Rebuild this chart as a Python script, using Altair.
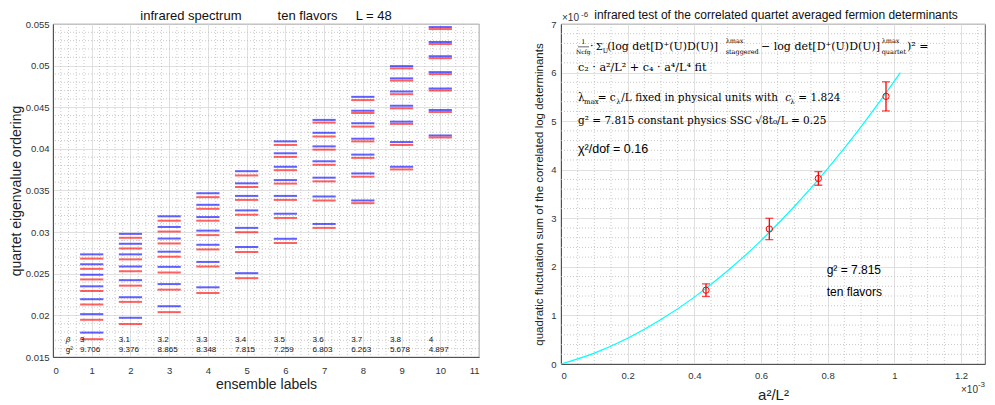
import altair as alt
import pandas as pd
import numpy as np

# ---------------- data: left panel ----------------
ensembles = [1, 2, 3, 4, 5, 6, 7, 8, 9, 10]
beta_labels = ["3", "3.1", "3.2", "3.3", "3.4", "3.5", "3.6", "3.7", "3.8", "4"]
g2_labels = ["9.706", "9.376", "8.865", "8.348", "7.815", "7.259", "6.803", "6.263", "5.678", "4.897"]

blue_levels = [
    [0.02733, 0.02614, 0.02488, 0.02349, 0.02194, 0.02015, 0.01793],
    [0.02979, 0.02860, 0.02733, 0.02587, 0.02423, 0.02218, 0.01971],
    [0.03190, 0.03062, 0.02923, 0.02765, 0.02583, 0.02376, 0.02110],
    [0.03467, 0.03328, 0.03181, 0.03018, 0.02848, 0.02642, 0.02337],
    [0.03732, 0.03586, 0.03435, 0.03261, 0.03051, 0.02821, 0.02507],
    [0.04090, 0.03947, 0.03785, 0.03625, 0.03435, 0.03221, 0.02920],
    [0.04348, 0.04193, 0.04030, 0.03851, 0.03654, 0.03428, 0.03098],
    [0.04625, 0.04458, 0.04308, 0.04122, 0.03931, 0.03705, 0.03380],
    [0.04994, 0.04847, 0.04689, 0.04518, 0.04327, 0.04082, 0.03785],
    [0.05463, 0.05284, 0.05113, 0.04922, 0.04725, 0.04467, 0.04161],
]
red_levels = [
    [0.02682, 0.02559, 0.02432, 0.02293, 0.02131, 0.01947, 0.01714],
    [0.02932, 0.02804, 0.02673, 0.02530, 0.02357, 0.02162, 0.01896],
    [0.03137, 0.03007, 0.02864, 0.02705, 0.02515, 0.02309, 0.02039],
    [0.03420, 0.03280, 0.03137, 0.02964, 0.02792, 0.02587, 0.02269],
    [0.03681, 0.03542, 0.03387, 0.03209, 0.02999, 0.02761, 0.02447],
    [0.04047, 0.03904, 0.03744, 0.03583, 0.03387, 0.03170, 0.02869],
    [0.04316, 0.04149, 0.03991, 0.03809, 0.03610, 0.03380, 0.03051],
    [0.04586, 0.04431, 0.04268, 0.04090, 0.03892, 0.03666, 0.03348],
    [0.04967, 0.04820, 0.04657, 0.04487, 0.04300, 0.04047, 0.03753],
    [0.05439, 0.05260, 0.05089, 0.04898, 0.04701, 0.04443, 0.04137],
]

# ---------------- data: right panel (x in 1e-3, y in 1e-6) ----------------
pt_x = [0.435, 0.625, 0.772, 0.975]
pt_y = [1.52, 2.78, 3.82, 5.51]
pt_err = [0.13, 0.22, 0.14, 0.30]
fit_x = [0.0, 0.1, 0.2, 0.3, 0.4, 0.5, 0.6, 0.7, 0.8, 0.9, 1.0, 1.018]
fit_y = [0.0, 0.225, 0.53, 0.914, 1.377, 1.92, 2.541, 3.243, 4.024, 4.883, 5.822, 6.0]

SANS = "Liberation Sans"
SERIF = "DejaVu Serif"
GRID = "#d8d8d8"
MINOR = "#bdbdbd"
HALF = 0.3
FS = 10.5   # formula font size
FS1 = 11.0  # first formula line

# ---------------- left panel ----------------
def lx(field):
    return alt.X(field, type="quantitative",
                 scale=alt.Scale(domain=[0, 11], nice=False, zero=False),
                 axis=alt.Axis(values=list(range(12)), format="~g", title="ensemble labels",
                               titleFontSize=14, titlePadding=3, labelPadding=8))

def ly(field):
    return alt.Y(field, type="quantitative",
                 scale=alt.Scale(domain=[0.015, 0.055], nice=False, zero=False),
                 axis=alt.Axis(values=[0.015, 0.02, 0.025, 0.03, 0.035, 0.04, 0.045, 0.05, 0.055],
                               format=".3~f", title="quartet eigenvalue ordering",
                               titleFontSize=14, titlePadding=2, labelPadding=4))

lx_minor = [round(i + j * 0.2, 3) for i in range(11) for j in range(1, 5)]
ly_minor = [round(0.015 + k * 0.001, 4) for k in range(41) if k % 5 != 0]

left_vminor = alt.Chart(pd.DataFrame({"gx": lx_minor})).mark_rule(
    color=MINOR, strokeDash=[1, 2], strokeWidth=0.8).encode(x=lx("gx"))
left_hminor = alt.Chart(pd.DataFrame({"gy": ly_minor})).mark_rule(
    color=MINOR, strokeDash=[1, 2], strokeWidth=0.8).encode(y=ly("gy"))

rows = []
for e, bl, rl in zip(ensembles, blue_levels, red_levels):
    for v in bl:
        rows.append({"e": e, "v": v, "s": "blue"})
    for v in rl:
        rows.append({"e": e, "v": v, "s": "red"})
lev = pd.DataFrame(rows)
lev["x0"] = lev["e"] - HALF
lev["x1"] = lev["e"] + HALF

blue_rules = alt.Chart(lev[lev.s == "blue"]).mark_rule(
    color="#0000ff", strokeWidth=2, opacity=0.62).encode(x=lx("x0"), x2="x1", y=ly("v"))
red_rules = alt.Chart(lev[lev.s == "red"]).mark_rule(
    color="#ff0000", strokeWidth=2, opacity=0.62).encode(x=lx("x0"), x2="x1", y=ly("v"))

ann = pd.DataFrame({"e": ensembles, "b": beta_labels, "g": g2_labels})
ann["tx"] = ann["e"] - HALF
ann["yb"] = 0.0171
ann["yg"] = 0.0159
beta_txt = alt.Chart(ann).mark_text(align="left", baseline="middle", fontSize=8, font=SANS,
                                    color="#111").encode(x=lx("tx"), y=ly("yb"), text="b:N")
g2_txt = alt.Chart(ann).mark_text(align="left", baseline="middle", fontSize=8, font=SANS,
                                  color="#111").encode(x=lx("tx"), y=ly("yg"), text="g:N")


def txt(text, x, y, xenc, yenc, size=12, font=SANS, align="left", baseline="middle",
        style="normal", color="#000", dx=0, dy=0):
    df = pd.DataFrame({"tx": [x], "ty": [y], "t": [text]})
    return alt.Chart(df).mark_text(align=align, baseline=baseline, fontSize=size, font=font,
                                   fontStyle=style, color=color, dx=dx, dy=dy).encode(
        x=xenc("tx"), y=yenc("ty"), text="t:N")


beta_sym = txt("β", 0.33, 0.0171, lx, ly, size=8, font=SANS, style="italic", color="#111")
g2_sym = txt("g²", 0.33, 0.0159, lx, ly, size=8, font=SANS, color="#111")

NB = "\u00a0"
left_title_text = "infrared spectrum" + NB * 10 + "ten flavors" + NB * 5 + "L = 48"
left_title = txt(left_title_text, 5.5, 0.055, lx, ly, size=13, font=SANS, align="center",
                 baseline="bottom", dy=-1, color="#111")

left = alt.layer(left_vminor, left_hminor, blue_rules, red_rules, beta_txt, g2_txt,
                 beta_sym, g2_sym, left_title).properties(width=426, height=333)

# ---------------- right panel ----------------
def rx(field):
    return alt.X(field, type="quantitative",
                 scale=alt.Scale(domain=[0, 1.272], nice=False, zero=False),
                 axis=alt.Axis(values=[0, 0.2, 0.4, 0.6, 0.8, 1.0, 1.2], format="~g",
                               title="a²/L²", titleFontSize=15, titlePadding=8, labelPadding=6))

def ry(field):
    return alt.Y(field, type="quantitative",
                 scale=alt.Scale(domain=[0, 7], nice=False, zero=False),
                 axis=alt.Axis(values=list(range(8)), format="~g",
                               title="quadratic fluctuation sum of the correlated log determinants",
                               titleFontSize=11.5, titlePadding=6, labelPadding=5))

rx_minor = [round(k * 0.05, 3) for k in range(1, 26) if k % 4 != 0]
ry_minor = [round(k * 0.2, 2) for k in range(1, 35) if k % 5 != 0]

right_vminor = alt.Chart(pd.DataFrame({"gx": rx_minor})).mark_rule(
    color=MINOR, strokeDash=[1, 2], strokeWidth=0.8).encode(x=rx("gx"))
right_hminor = alt.Chart(pd.DataFrame({"gy": ry_minor})).mark_rule(
    color=MINOR, strokeDash=[1, 2], strokeWidth=0.8).encode(y=ry("gy"))

fit = alt.Chart(pd.DataFrame({"fx": fit_x, "fy": fit_y})).mark_line(
    color="#00ffff", strokeWidth=1.2, interpolate="monotone").encode(x=rx("fx"), y=ry("fy"))

pts = pd.DataFrame({"px": pt_x, "py": pt_y, "err": pt_err})
pts["lo"] = pts["py"] - pts["err"]
pts["hi"] = pts["py"] + pts["err"]
ebar = alt.Chart(pts).mark_rule(color="#ff0000", strokeWidth=1.3).encode(
    x=rx("px"), y=ry("lo"), y2="hi")
cap_lo = alt.Chart(pts).mark_tick(color="#ff0000", orient="horizontal", size=8, thickness=1.3).encode(
    x=rx("px"), y=ry("lo"))
cap_hi = alt.Chart(pts).mark_tick(color="#ff0000", orient="horizontal", size=8, thickness=1.3).encode(
    x=rx("px"), y=ry("hi"))
circ = alt.Chart(pts).mark_point(shape="circle", filled=False, color="#ff0000", size=40,
                                 strokeWidth=1, opacity=1).encode(x=rx("px"), y=ry("py"))

T = []
# formula line 1
T.append(txt("1", 0.067, 6.62, rx, ry, size=6.5, font=SERIF, align="center"))
T.append(alt.Chart(pd.DataFrame({"a": [0.051], "b": [0.084], "c": [6.53]})).mark_rule(
    color="#000", strokeWidth=0.6).encode(x=rx("a"), x2="b", y=ry("c")))
T.append(txt("Ncfg", 0.067, 6.43, rx, ry, size=6, font=SERIF, align="center"))
T.append(txt("·", 0.092, 6.53, rx, ry, size=FS1, font=SERIF, align="center"))
T.append(txt("Σ", 0.104, 6.53, rx, ry, size=10, font=SERIF))
T.append(txt("U", 0.125, 6.45, rx, ry, size=6.5, font=SERIF))
T.append(txt("(log det[D⁺(U)D(U)]", 0.139, 6.53, rx, ry, size=FS1, font=SERIF))
T.append(txt("λmax", 0.494, 6.64, rx, ry, size=6.5, font=SERIF))
T.append(txt("staggered", 0.494, 6.43, rx, ry, size=6.5, font=SERIF))
T.append(txt("− log det[D⁺(U)D(U)]", 0.600, 6.53, rx, ry, size=FS1, font=SERIF))
T.append(txt("λmax", 0.962, 6.64, rx, ry, size=6.5, font=SERIF))
T.append(txt("quartet", 0.962, 6.43, rx, ry, size=6.5, font=SERIF))
T.append(txt(")² =", 1.038, 6.53, rx, ry, size=FS1, font=SERIF))
# line 2
T.append(txt("c₂ · a²/L² + c₄ · a⁴/L⁴   fit", 0.051, 6.10, rx, ry, size=11.2, font=SERIF))
# line 3
T.append(txt("λ", 0.051, 5.48, rx, ry, size=FS, font=SERIF))
T.append(txt("max", 0.069, 5.39, rx, ry, size=7, font=SERIF))
T.append(txt("= c", 0.110, 5.48, rx, ry, size=FS, font=SERIF))
T.append(txt("λ", 0.166, 5.39, rx, ry, size=7, font=SERIF))
T.append(txt("/L fixed in physical units with", 0.181, 5.48, rx, ry, size=FS, font=SERIF))
T.append(txt("c", 0.673, 5.48, rx, ry, size=FS, font=SERIF, style="italic"))
T.append(txt("λ", 0.688, 5.39, rx, ry, size=7, font=SERIF))
T.append(txt("= 1.824", 0.712, 5.48, rx, ry, size=FS, font=SERIF))
# line 4
T.append(txt("g² = 7.815 constant physics SSC √8t₀/L = 0.25", 0.051, 5.01, rx, ry, size=FS, font=SERIF))
# line 5
T.append(txt("χ²/dof = 0.16", 0.051, 4.42, rx, ry, size=12.5, font=SANS))
# inside labels
T.append(txt("g² = 7.815", 0.797, 1.93, rx, ry, size=12, font=SANS))
T.append(txt("ten flavors", 0.797, 1.48, rx, ry, size=12, font=SANS))
# exponent labels and title
T.append(txt("×10", 0.0, 7.0, rx, ry, size=10, font=SANS, baseline="bottom", dx=1, dy=-1, color="#333"))
T.append(txt("-6", 0.0, 7.0, rx, ry, size=8, font=SANS, baseline="bottom", dx=20, dy=-5, color="#333"))
T.append(txt("×10", 1.272, 0.0, rx, ry, size=10, font=SANS, align="right", baseline="top", dx=-7, dy=21, color="#333"))
T.append(txt("-3", 1.272, 0.0, rx, ry, size=8, font=SANS, align="right", baseline="top", dx=0, dy=17, color="#333"))
T.append(txt("infrared test of the correlated quartet averaged fermion determinants", 0.645, 7.0,
             rx, ry, size=12, font=SANS, align="center", baseline="bottom", dy=-2, color="#111"))

right = alt.layer(right_vminor, right_hminor, fit, ebar, cap_lo, cap_hi, circ, *T).properties(
    width=424, height=340)

chart = alt.hconcat(left, right, spacing=53).properties(
    padding={"left": 0, "top": 0, "right": 0, "bottom": 0}).configure_axis(
    labelFont=SANS, labelFontSize=9.5, labelColor="#333",
    titleFont=SANS, titleFontWeight="normal", titleColor="#222",
    ticks=False, domainColor="#333", domainWidth=0.8,
    gridColor=GRID, gridWidth=0.8,
).configure_view(stroke="#333", strokeWidth=0.8)

chart.save("out.html", embed_options={"renderer": "svg", "actions": False})
